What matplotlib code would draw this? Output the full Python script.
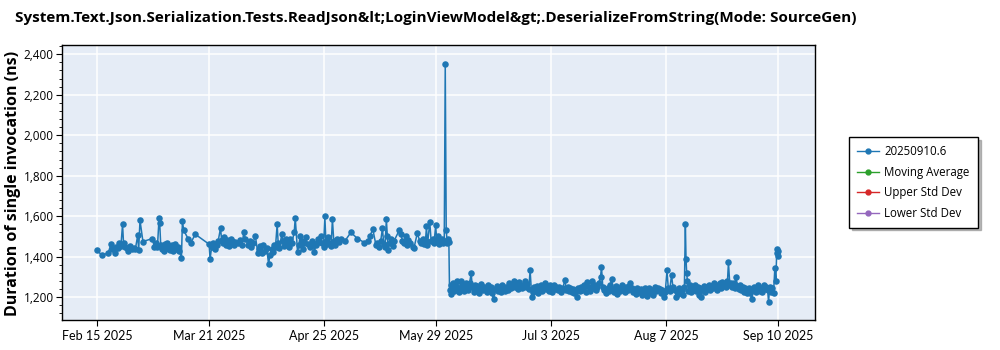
import numpy as np
import pandas as pd
import matplotlib
matplotlib.use("Agg")
import matplotlib.pyplot as plt
from matplotlib.ticker import MultipleLocator, FuncFormatter
from matplotlib.lines import Line2D

plt.rcParams["font.family"] = ["Open Sans", "DejaVu Sans"]

# Benchmark runs, day of month (fractional = time of day) and duration in ns
feb_day = [15.0, 16.4, 18.3, 19.2, 19.5, 20.4, 20.8, 21.3, 21.7, 22.2, 22.7, 23.0, 23.4, 24.0, 24.5, 25.1,
           25.6, 26.2, 26.6, 27.3, 27.6, 28.0]
feb_ns = [1432, 1407, 1418, 1462, 1440, 1416, 1448, 1445, 1468, 1452, 1560, 1466, 1450, 1442, 1430, 1452,
          1436, 1445, 1438, 1505, 1432, 1580]

mar_day = [0.9, 3.8, 4.3, 4.8, 5.3, 5.8, 6.0, 6.3, 6.6, 7.0, 7.3, 7.6, 8.0, 8.3, 8.7, 9.0, 9.3, 9.7, 10.0,
           10.3, 10.6, 11.0, 11.5, 12.0, 12.6, 12.9, 13.3, 14.6, 15.4, 16.8, 21.0, 21.3, 21.8, 22.3, 22.8,
           23.3, 23.8, 24.5, 24.8, 25.2, 25.6, 26.0, 26.4, 26.8, 27.2, 27.6, 28.0, 28.5, 29.0, 29.8, 30.5,
           31.0, 31.6]
mar_ns = [1475, 1490, 1450, 1470, 1448, 1590, 1565, 1460, 1440, 1455, 1430, 1465, 1445, 1470, 1440, 1435,
          1452, 1460, 1430, 1445, 1462, 1438, 1450, 1430, 1392, 1575, 1530, 1490, 1467, 1511, 1462, 1388,
          1450, 1470, 1436, 1460, 1480, 1543, 1482, 1470, 1495, 1460, 1485, 1470, 1455, 1490, 1476, 1460,
          1472, 1468, 1482, 1460, 1523]

apr_day = [1.0, 1.8, 2.3, 2.8, 3.3, 4.1, 4.8, 5.2, 5.6, 6.0, 6.5, 7.0, 7.5, 8.1, 8.5, 9.0, 9.4, 9.8, 10.2,
           10.7, 11.0, 11.4, 12.1, 12.5, 12.9, 13.3, 13.7, 14.2, 14.7, 15.2, 15.9, 16.2, 16.9, 17.3, 17.7,
           18.2, 18.6, 19.0, 19.4, 20.0, 20.6, 21.2, 21.6, 22.0, 22.5, 23.0, 23.4, 23.9, 24.4, 24.8, 25.2,
           25.5, 25.9, 26.3, 26.7, 27.1, 27.5, 27.9, 28.4, 28.9, 29.6, 30.2]
apr_ns = [1490, 1460, 1480, 1450, 1470, 1500, 1420, 1440, 1452, 1420, 1460, 1430, 1445, 1363, 1410, 1440,
          1425, 1460, 1450, 1560, 1470, 1445, 1510, 1480, 1455, 1490, 1465, 1450, 1490, 1470, 1523, 1592,
          1423, 1460, 1500, 1480, 1437, 1470, 1495, 1462, 1450, 1480, 1470, 1423, 1460, 1490, 1475, 1500,
          1470, 1448, 1600, 1480, 1462, 1495, 1470, 1452, 1585, 1480, 1460, 1490, 1473, 1490]

may_day = [1.4, 3.1, 5.1, 7.2, 8.3, 8.8, 9.8, 10.7, 11.2, 11.7, 12.2, 12.7, 13.1, 13.5, 13.9, 14.2, 14.5,
           14.9, 15.3, 15.8, 16.3, 17.8, 18.3, 18.8, 19.3, 19.8, 20.3, 20.6, 21.2, 22.0, 22.3, 23.3, 24.0,
           24.4, 24.9, 25.4, 25.8, 26.1, 26.4, 27.1, 27.5, 28.0, 28.4, 28.9, 29.2, 29.6, 30.0, 30.4, 30.8,
           31.2, 31.5, 31.8]
may_ns = [1480, 1520, 1490, 1470, 1480, 1500, 1535, 1460, 1470, 1450, 1480, 1540, 1465, 1450, 1585, 1500,
          1432, 1470, 1490, 1455, 1480, 1530, 1510, 1480, 1470, 1500, 1460, 1485, 1470, 1450, 1443, 1516,
          1480, 1470, 1490, 1465, 1480, 1550, 1460, 1570, 1480, 1490, 1470, 1555, 1480, 1500, 1465, 1475,
          1490, 1470, 1480, 2350]

jun_day = [1.1, 1.4, 1.7, 1.9, 2.1, 2.4, 2.7, 3.0, 3.3, 3.6, 4.0, 4.3, 4.7, 5.0, 5.5, 5.8, 6.2, 6.6, 7.0,
           7.4, 7.8, 8.2, 8.7, 9.0, 9.4, 9.8, 10.2, 10.6, 11.0, 11.4, 11.8, 12.2, 12.6, 13.0, 13.4, 13.8,
           14.2, 14.6, 15.0, 15.5, 16.0, 16.4, 16.8, 17.2, 17.6, 18.0, 18.5, 19.0, 19.4, 19.8, 20.3, 20.8,
           21.2, 21.6, 22.0, 22.4, 22.8, 23.2, 23.6, 24.0, 24.5, 25.0, 25.4, 25.8, 26.2, 26.6, 27.1, 27.5,
           27.9, 28.3, 28.7, 29.1, 29.5, 29.9, 30.3, 30.7]
jun_ns = [1530, 1470, 1490, 1475, 1236, 1215, 1260, 1245, 1270, 1230, 1255, 1280, 1240, 1225, 1280, 1262,
          1245, 1230, 1268, 1250, 1238, 1272, 1318, 1250, 1228, 1262, 1240, 1255, 1220, 1248, 1265, 1235,
          1252, 1242, 1228, 1258, 1236, 1250, 1222, 1190, 1240, 1256, 1232, 1248, 1226, 1260, 1242, 1230,
          1252, 1238, 1270, 1245, 1262, 1280, 1250, 1268, 1240, 1275, 1256, 1244, 1262, 1280, 1250, 1265,
          1242, 1333, 1202, 1228, 1250, 1238, 1256, 1222, 1244, 1260, 1232, 1250]

jul_day = [1.0, 1.4, 1.8, 2.2, 2.6, 3.0, 3.4, 3.8, 4.2, 4.6, 5.0, 5.5, 6.0, 6.5, 7.2, 7.6, 8.0, 8.4, 8.8,
           9.2, 9.6, 10.0, 10.5, 11.0, 11.3, 11.7, 12.1, 12.5, 13.0, 13.5, 14.0, 14.4, 14.8, 15.3, 15.7,
           16.2, 16.6, 17.0, 17.5, 18.0, 18.3, 18.7, 19.2, 19.7, 20.2, 20.7, 21.0, 21.4, 21.8, 22.2, 22.6,
           23.0, 23.5, 24.0, 24.4, 24.8, 25.3, 25.8, 26.3, 26.7, 27.1, 27.5, 27.9, 28.3, 28.8, 29.2, 29.7,
           30.2, 30.6, 31.0, 31.5]
jul_ns = [1270, 1240, 1255, 1232, 1262, 1248, 1228, 1258, 1240, 1252, 1236, 1250, 1228, 1244, 1285, 1238,
          1250, 1232, 1246, 1228, 1240, 1222, 1236, 1200, 1244, 1230, 1252, 1238, 1260, 1226, 1277, 1250,
          1232, 1280, 1245, 1260, 1236, 1252, 1270, 1300, 1348, 1250, 1236, 1222, 1244, 1230, 1258, 1290,
          1240, 1226, 1255, 1218, 1246, 1232, 1262, 1240, 1228, 1250, 1236, 1256, 1270, 1244, 1228, 1238,
          1215, 1246, 1226, 1240, 1212, 1232, 1246]

aug_day = [1.0, 1.4, 1.8, 2.2, 2.6, 3.0, 3.5, 4.0, 4.5, 5.0, 5.4, 5.8, 6.2, 6.7, 7.2, 7.6, 8.0, 8.6, 9.0,
           9.5, 10.1, 10.5, 10.9, 11.3, 11.7, 12.1, 12.5, 12.8, 13.0, 13.2, 13.4, 13.7, 14.1, 14.5, 14.9,
           15.3, 15.7, 16.1, 16.5, 16.9, 17.3, 17.6, 18.0, 18.4, 18.8, 19.2, 19.6, 20.0, 20.4, 20.8, 21.2,
           21.6, 22.0, 22.4, 22.8, 23.2, 23.6, 24.0, 24.4, 24.8, 25.2, 25.6, 25.9, 26.3, 26.7, 27.1, 27.5,
           27.9, 28.2, 28.6, 29.0, 29.4, 29.8, 30.2, 30.6, 31.0, 31.4, 31.8]
aug_ns = [1205, 1228, 1244, 1220, 1236, 1212, 1250, 1232, 1244, 1240, 1222, 1236, 1200, 1228, 1333, 1246,
          1230, 1310, 1252, 1236, 1200, 1214, 1246, 1225, 1238, 1210, 1250, 1560, 1387, 1320, 1282, 1232,
          1258, 1224, 1246, 1236, 1262, 1230, 1250, 1212, 1244, 1202, 1238, 1256, 1226, 1250, 1240, 1262,
          1234, 1256, 1244, 1268, 1250, 1236, 1262, 1270, 1248, 1276, 1258, 1266, 1250, 1280, 1373, 1262,
          1272, 1252, 1268, 1245, 1300, 1256, 1240, 1262, 1234, 1250, 1226, 1244, 1220, 1238]

sep_day = [1.0, 1.5, 2.0, 2.4, 2.8, 3.2, 3.6, 4.0, 4.4, 4.8, 5.2, 5.6, 6.0, 6.4, 6.8, 7.1, 7.4, 7.8, 8.2,
           8.6, 9.0, 9.3, 9.6, 9.8, 10.0, 10.1]
sep_ns = [1248, 1222, 1190, 1236, 1250, 1228, 1244, 1258, 1232, 1246, 1224, 1262, 1240, 1252, 1236, 1175,
          1250, 1226, 1244, 1220, 1343, 1280, 1437, 1417, 1430, 1405]

tick_labels = ["Feb 15 2025", "Mar 21 2025", "Apr 25 2025", "May 29 2025",
               "Jul 3 2025", "Aug 7 2025", "Sep 10 2025"]
series_name = "20250910.6"
legend_names = [series_name, "Moving Average", "Upper Std Dev", "Lower Std Dev"]
legend_colors = ["#1f77b4", "#2ca02c", "#d62728", "#9467bd"]

months = [(2, feb_day, feb_ns), (3, mar_day, mar_ns), (4, apr_day, apr_ns), (5, may_day, may_ns),
          (6, jun_day, jun_ns), (7, jul_day, jul_ns), (8, aug_day, aug_ns), (9, sep_day, sep_ns)]
dates, values = [], []
for m, days, ns in months:
    start = pd.Timestamp(2025, m, 1)
    dates += [start + pd.Timedelta(days=d - 1) for d in days]
    values += ns

fig = plt.figure(figsize=(10, 3.5), dpi=100)
ax = fig.add_axes([0.062, 0.086, 0.753, 0.785])
ax.set_facecolor("#e5ecf6")

ax.plot(dates, values, "-o", color=legend_colors[0], lw=1.1, ms=4.7, mew=0)

ax.set_ylim(1088, 2445)
ax.set_xlim(pd.Timestamp(2025, 2, 4, 7), pd.Timestamp(2025, 9, 21, 5))
ax.yaxis.set_major_locator(MultipleLocator(200))
ax.yaxis.set_minor_locator(MultipleLocator(40))
ax.yaxis.set_major_formatter(FuncFormatter(lambda v, p: f"{v:,.0f}"))

tick_dates = [pd.Timestamp(s) for s in tick_labels]
ax.set_xticks(tick_dates)
ax.set_xticklabels(tick_labels, family="Lato", fontsize=9)

ax.grid(True, which="major", color="white", lw=1.1)
ax.set_axisbelow(True)
for s in ax.spines.values():
    s.set_color("black")
    s.set_linewidth(1.0)
ax.tick_params(axis="both", which="major", labelsize=8.5, length=4, width=0.8, color="black", pad=2)
ax.tick_params(axis="y", which="minor", length=2, width=0.6)
ax.tick_params(axis="x", which="major", labelsize=9, pad=3)

fig.text(0.015, 0.949, "System.Text.Json.Serialization.Tests.ReadJson&lt;LoginViewModel&gt;.DeserializeFromString(Mode: SourceGen)",
         ha="left", va="center", fontsize=11, fontweight="bold")
fig.text(0.013, 0.477, "Duration of single invocation (ns)", rotation=90, ha="center", va="center",
         fontsize=11.5, fontweight="bold")

handles = [Line2D([], [], color=c, lw=1, marker="o", ms=3.5) for c in legend_colors]
leg = fig.legend(handles, legend_names, loc="center left", bbox_to_anchor=(0.843, 0.479),
                 fontsize=8.3, frameon=True, fancybox=False, edgecolor="black",
                 shadow={"color": "0.55", "alpha": 0.6},
                 handlelength=1.9, handletextpad=0.5, borderpad=0.7, labelspacing=0.65)
leg.get_frame().set_linewidth(1.0)

fig.savefig("out.png", dpi=100)
